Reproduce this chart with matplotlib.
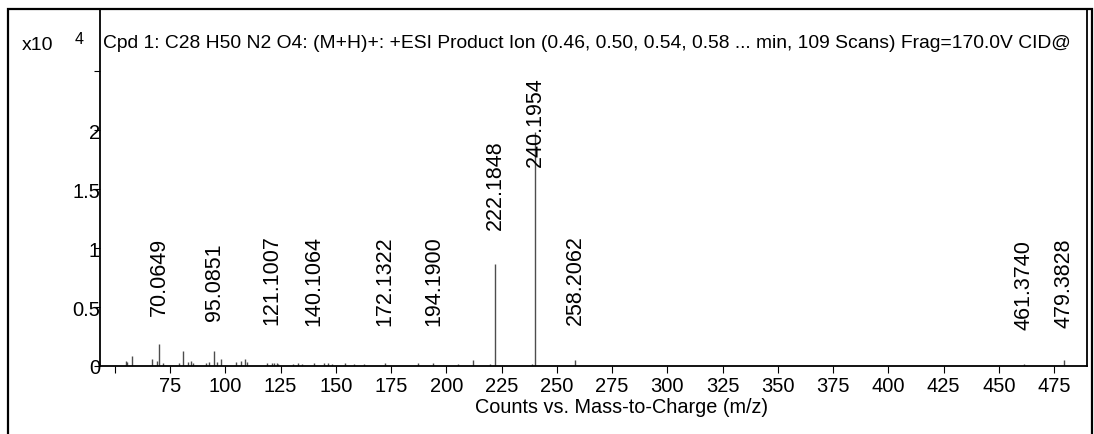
import numpy as np
import matplotlib
matplotlib.use("Agg")
import matplotlib.pyplot as plt
from matplotlib.patches import Rectangle
from matplotlib.ticker import FuncFormatter

plt.rcParams['font.family'] = ['Liberation Sans', 'DejaVu Sans']

# peak list (m/z, counts)
mz = [54.9, 55.5, 57.8, 66.8, 68.9, 70.0649, 71.9, 78.9, 80.8, 83.0, 84.3, 85.2,
      91.1, 92.7, 95.0851, 96.1, 98.0, 104.8, 107.0, 108.9, 110.0, 118.7, 121.1007,
      122.0, 123.2, 124.0, 130.8, 132.7, 134.5, 140.1064, 144.7, 146.6, 148.5,
      154.1, 158.2, 162.9, 172.1322, 187.2, 194.1900, 205.3, 212.1, 219.8,
      222.1848, 238.8, 240.1954, 258.2062, 461.3740, 479.3828]
counts = [420, 340, 850, 600, 420, 1860, 250, 250, 1270, 340, 420, 250,
          250, 340, 1250, 340, 590, 340, 420, 590, 340, 250, 250,
          250, 250, 170, 170, 250, 170, 250, 250, 250, 170,
          250, 170, 170, 250, 250, 250, 170, 500, 170,
          8640, 170, 19900, 500, 170, 500]

# annotated peaks and where their labels sit
label_mz = [70.0649, 95.0851, 121.1007, 140.1064, 172.1322, 194.1900,
            222.1848, 240.1954, 258.2062, 461.3740, 479.3828]
label_y = [4320, 3900, 3560, 3470, 3470, 3470, 11610, 16950, 3560, 3140, 3300]

x_ticks = [50, 75, 100, 125, 150, 175, 200, 225, 250, 275, 300, 325, 350,
           375, 400, 425, 450, 475]
y_ticks = [0, 5000, 10000, 15000, 20000, 25000]

title = ("Cpd 1: C28 H50 N2 O4: (M+H)+: +ESI Product Ion (0.46, 0.50, 0.54, "
         "0.58 ... min, 109 Scans) Frag=170.0V CID@")

W, H = 1094, 435
fig = plt.figure(figsize=(W / 100, H / 100), dpi=100)
ax = fig.add_axes([100 / W, 1 - 367 / H, (1087 - 100) / W, (367 - 10) / H])

ax.vlines(mz, 0, counts, color='#4d4d4d', linewidth=1.0)

for m, y in zip(label_mz, label_y):
    ax.text(m, y, f"{m:.4f}", rotation=90, ha='center', va='bottom',
            fontsize=15.5, color='black')

ax.set_xlim(43.3, 489.9)
ax.set_ylim(0, 30300)
ax.set_xticks(x_ticks)
ax.set_xticklabels(['' if t == 50 else str(t) for t in x_ticks])
ax.set_yticks(y_ticks)
ax.yaxis.set_major_formatter(FuncFormatter(
    lambda v, p: '' if v == 25000 else f"{v / 1e4:g}"))

ax.tick_params(axis='x', direction='out', length=5, width=0.8, pad=2,
               labelsize=14.5)
ax.tick_params(axis='y', direction='out', length=4, width=0.8, pad=-4,
               labelsize=14.5)
for s in ax.spines.values():
    s.set_linewidth(1.3)

ax.text(0.003, 0.905, title, transform=ax.transAxes, fontsize=13.9,
        ha='left', va='center')

fig.text(22 / W, 1 - 46 / H, "x10", fontsize=14, ha='left', va='center')
fig.text(75 / W, 1 - 39 / H, "4", fontsize=11.5, ha='left', va='center')
fig.text(622 / W, 1 - 408 / H, "Counts vs. Mass-to-Charge (m/z)",
         fontsize=14.3, ha='center', va='center')

# outer frame of the exported panel
fig.add_artist(Rectangle((8 / W, -0.1), (1092 - 8) / W, 1.1 - 10 / H,
                         transform=fig.transFigure, fill=False,
                         edgecolor='black', linewidth=1.6))

fig.savefig('out.png', dpi=100)
